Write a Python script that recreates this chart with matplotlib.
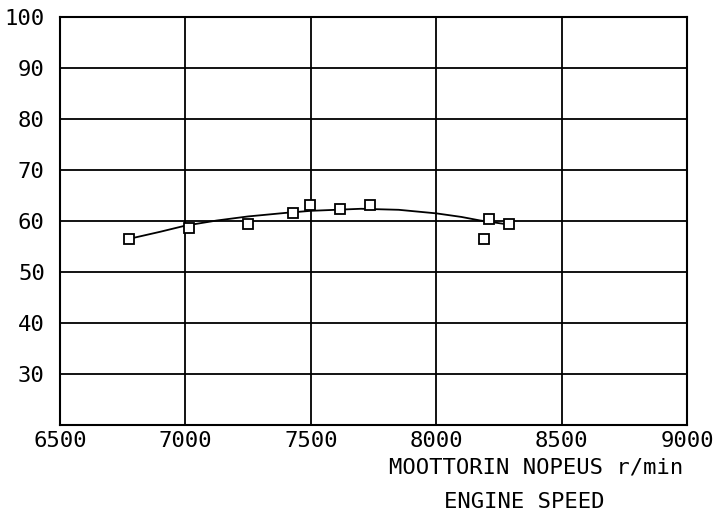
import matplotlib
matplotlib.use("Agg")
import matplotlib.pyplot as plt

# measured points (engine speed r/min, value)
speed = [6775, 7015, 7250, 7430, 7495, 7615, 7735, 8190, 8210, 8290]
value = [56.5, 58.6, 59.5, 61.5, 63.2, 62.3, 63.2, 56.5, 60.4, 59.5]

# fitted curve
curve_x = [6775, 6900, 7000, 7125, 7250, 7400, 7500, 7700, 7850, 8000, 8100, 8175, 8290]
curve_y = [56.5, 57.9, 59.1, 60.1, 60.9, 61.6, 62.0, 62.4, 62.2, 61.5, 60.8, 60.1, 59.3]

xticks = [6500, 7000, 7500, 8000, 8500, 9000]
yticks = [30, 40, 50, 60, 70, 80, 90, 100]

plt.rcParams['font.family'] = ['DejaVu Sans Mono']

fig = plt.figure(figsize=(7.16, 5.14), dpi=100)
ax = fig.add_axes([0.0838, 0.173, 0.876, 0.794])

ax.plot(curve_x, curve_y, color='black', lw=1.3, zorder=3)
ax.plot(speed, value, ls='none', marker='s', ms=6.5, mfc='white', mec='black',
        mew=1.3, zorder=4)

ax.set_xlim(6500, 9000)
ax.set_ylim(20, 100)
ax.set_xticks(xticks)
ax.set_yticks(yticks)
ax.set_xticklabels([str(t) for t in xticks], fontsize=16)
ax.set_yticklabels([str(t) for t in yticks], fontsize=16)
ax.tick_params(axis='x', length=0, pad=4)
ax.tick_params(axis='y', length=0, pad=11)
ax.grid(True, color='black', lw=1.3)
for s in ax.spines.values():
    s.set_linewidth(1.5)

fig.text(0.749, 0.091, 'MOOTTORIN NOPEUS r/min', fontsize=16, ha='center', va='center')
fig.text(0.732, 0.023, 'ENGINE SPEED', fontsize=16, ha='center', va='center')

fig.savefig('out.png', dpi=100)
